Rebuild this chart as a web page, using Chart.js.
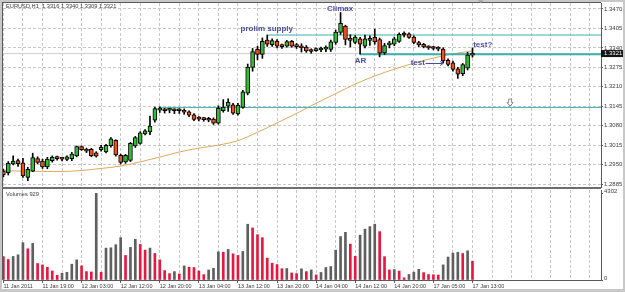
<!DOCTYPE html>
<html>
<head>
<meta charset="utf-8">
<script src="https://cdn.jsdelivr.net/npm/chart.js@4.4.1/dist/chart.umd.min.js"></script>
<style>
    html, body { margin: 0; padding: 0; background: #c8c8c8; }
    #wrap { position: relative; width: 625px; height: 292px; overflow: hidden; }
    #paper { position: absolute; left: 2px; top: 2px; width: 621px; height: 287px; background: #fff; }
    canvas { position: absolute; left: 0; }
    #price { top: 0; }
    #volume { top: 189px; }
</style>
</head>
<body>
<div id="wrap">
    <div id="paper"></div>
    <canvas id="price" width="625" height="189"></canvas>
    <canvas id="volume" width="625" height="103"></canvas>
</div>
<script>
// EURUSD H1 candles, 11 Jan 2011 11:00 .. 17 Jan 13:00 (one entry per bar)
const symbol = 'EURUSD,H1';
const opens = [
    1.2928, 1.2923, 1.2952, 1.2963, 1.2956, 1.2907, 1.2928, 1.2970, 1.2962, 1.2942,
    1.2963, 1.2975, 1.2970, 1.2967, 1.2970, 1.2979, 1.3010, 1.3002, 1.3001, 1.2989,
    1.3000, 1.2992, 1.3013, 1.3031, 1.2981, 1.2959, 1.2964, 1.3012, 1.3021, 1.3052,
    1.3059, 1.3098, 1.3132, 1.3133, 1.3132, 1.3132, 1.3130, 1.3131, 1.3126, 1.3116,
    1.3104, 1.3103, 1.3104, 1.3102, 1.3088, 1.3130, 1.3145, 1.3150, 1.3119, 1.3141,
    1.3189, 1.3275, 1.3335, 1.3318, 1.3366, 1.3351, 1.3363, 1.3348, 1.3346, 1.3362,
    1.3348, 1.3345, 1.3343, 1.3332, 1.3331, 1.3333, 1.3336, 1.3335, 1.3358, 1.3392,
    1.3413, 1.3372, 1.3358, 1.3370, 1.3346, 1.3365, 1.3375, 1.3368, 1.3323, 1.3350,
    1.3352, 1.3362, 1.3388, 1.3387, 1.3376, 1.3358, 1.3352, 1.3344, 1.3340, 1.3339,
    1.3336, 1.3298, 1.3290, 1.3270, 1.3254, 1.3272, 1.3316
];
const highs = [
    1.2934, 1.2960, 1.2979, 1.2968, 1.2971, 1.2941, 1.2988, 1.2976, 1.2968, 1.2974,
    1.2979, 1.2978, 1.2974, 1.2979, 1.2991, 1.3012, 1.3012, 1.3005, 1.3004, 1.2993,
    1.3014, 1.3018, 1.3040, 1.3033, 1.2985, 1.2984, 1.3024, 1.3044, 1.3060, 1.3067,
    1.3112, 1.3142, 1.3143, 1.3138, 1.3138, 1.3137, 1.3137, 1.3136, 1.3130, 1.3120,
    1.3110, 1.3108, 1.3108, 1.3106, 1.3146, 1.3167, 1.3170, 1.3155, 1.3155, 1.3198,
    1.3286, 1.3338, 1.3345, 1.3373, 1.3383, 1.3370, 1.3368, 1.3353, 1.3365, 1.3365,
    1.3355, 1.3354, 1.3348, 1.3337, 1.3340, 1.3343, 1.3347, 1.3366, 1.3400, 1.3458,
    1.3416, 1.3384, 1.3381, 1.3375, 1.3383, 1.3380, 1.3403, 1.3373, 1.3355, 1.3362,
    1.3376, 1.3390, 1.3394, 1.3390, 1.3380, 1.3362, 1.3355, 1.3347, 1.3345, 1.3344,
    1.3340, 1.3303, 1.3296, 1.3275, 1.3288, 1.3325, 1.3340
];
const lows = [
    1.2909, 1.2915, 1.2949, 1.2944, 1.2907, 1.2896, 1.2926, 1.2952, 1.2937, 1.2936,
    1.2958, 1.2965, 1.2962, 1.2963, 1.2963, 1.2976, 1.2997, 1.2990, 1.2976, 1.2975,
    1.2995, 1.2989, 1.3008, 1.2978, 1.2952, 1.2954, 1.2960, 1.3007, 1.3018, 1.3049,
    1.3050, 1.3092, 1.3124, 1.3122, 1.3123, 1.3120, 1.3121, 1.3118, 1.3110, 1.3097,
    1.3096, 1.3095, 1.3093, 1.3084, 1.3085, 1.3125, 1.3128, 1.3118, 1.3115, 1.3138,
    1.3183, 1.3262, 1.3300, 1.3305, 1.3345, 1.3345, 1.3340, 1.3338, 1.3342, 1.3342,
    1.3338, 1.3326, 1.3325, 1.3322, 1.3328, 1.3327, 1.3327, 1.3328, 1.3352, 1.3385,
    1.3350, 1.3343, 1.3354, 1.3319, 1.3340, 1.3348, 1.3352, 1.3310, 1.3318, 1.3340,
    1.3347, 1.3358, 1.3377, 1.3372, 1.3354, 1.3344, 1.3340, 1.3335, 1.3333, 1.3330,
    1.3290, 1.3280, 1.3262, 1.3238, 1.3247, 1.3266, 1.3309
];
const closes = [
    1.2916, 1.2954, 1.2962, 1.2953, 1.2912, 1.2934, 1.2973, 1.2957, 1.2942, 1.2968,
    1.2975, 1.2970, 1.2968, 1.2976, 1.2985, 1.3010, 1.3000, 1.2995, 1.2980, 1.2978,
    1.3008, 1.3014, 1.3036, 1.2982, 1.2957, 1.2981, 1.3021, 1.3040, 1.3056, 1.3063,
    1.3079, 1.3137, 1.3136, 1.3130, 1.3134, 1.3130, 1.3131, 1.3125, 1.3115, 1.3101,
    1.3102, 1.3100, 1.3098, 1.3088, 1.3138, 1.3142, 1.3158, 1.3122, 1.3148, 1.3193,
    1.3276, 1.3328, 1.3318, 1.3362, 1.3352, 1.3364, 1.3346, 1.3344, 1.3361, 1.3346,
    1.3344, 1.3340, 1.3330, 1.3328, 1.3337, 1.3336, 1.3340, 1.3360, 1.3393, 1.3422,
    1.3368, 1.3365, 1.3376, 1.3352, 1.3370, 1.3372, 1.3360, 1.3322, 1.3348, 1.3352,
    1.3370, 1.3385, 1.3383, 1.3375, 1.3358, 1.3350, 1.3343, 1.3340, 1.3338, 1.3336,
    1.3296, 1.3285, 1.3268, 1.3252, 1.3284, 1.3316, 1.3321
];
const volumes = [
    1167, 1017, 1167, 1250, 1850, 1550, 1817, 817, 750, 633,
    450, 233, 333, 383, 783, 1000, 700, 417, 400, 4302,
    383, 1583, 1600, 1750, 2100, 1217, 1617, 2017, 1767, 1483,
    1583, 1317, 1000, 467, 317, 417, 300, 700, 633, 617,
    450, 267, 500, 583, 1400, 1380, 1517, 1300, 1217, 1417,
    2767, 2583, 2250, 2100, 1083, 833, 767, 560, 570, 350,
    317, 555, 417, 500, 255, 375, 620, 667, 1483, 2158,
    2367, 1783, 1175, 2225, 2525, 2650, 2767, 2400, 1158, 500,
    517, 440, 110, 275, 390, 530, 365, 270, 260, 245,
    750, 1140, 1333, 1375, 1317, 1450, 929
];

// moving average read every 4th bar
const maBars = [0, 4, 8, 12, 16, 20, 24, 28, 32, 36, 40, 44, 48, 52, 56, 60, 64, 68, 72, 76, 80, 84, 88, 92, 96];
const maValues = [
    1.2930, 1.2928, 1.2927, 1.2927, 1.2930, 1.2937, 1.2945, 1.2959, 1.2975, 1.2992,
    1.3005, 1.3015, 1.3030, 1.3058, 1.3089, 1.3121, 1.3155, 1.3187, 1.3219, 1.3246,
    1.3269, 1.3289, 1.3306, 1.3320, 1.3330
];

// horizontal levels drawn on the chart (teal)
const levelPrices = [1.3383, 1.3319, 1.3141];
const levelFromBar = [54, 73, 32];
const levelWidths = [1, 2, 1];

// text notes (bar index, price)
const noteTexts = ['prolim supply', 'Climax', 'AR', 'test', 'test?'];
const noteBars = [53.9, 68.9, 73.1, 84.8, 98.1];
const notePrices = [1.3405, 1.3471, 1.3297, 1.32905, 1.33513];

const priceTicks = [1.2885, 1.2950, 1.3015, 1.3080, 1.3145, 1.3210, 1.3275, 1.3340, 1.3405, 1.3470];
const volumeTicks = [0, 4302];
const timeLabels = [
    '11 Jan 2011', '11 Jan 19:00', '12 Jan 03:00', '12 Jan 12:00', '12 Jan 20:00', '13 Jan 04:00',
    '13 Jan 12:00', '13 Jan 20:00', '14 Jan 04:00', '14 Jan 12:00', '14 Jan 20:00', '17 Jan 05:00', '17 Jan 13:00'
];

const X_MIN = -0.08;
const X_MAX = 122.3;
const GRID = '#c6c6c6';
const AXIS = '#5a5a5a';
const TEXT = '#3a3a3a';
const NOTE = '#4b4ba5';
const FONT = "'Liberation Sans', Arial, sans-serif";
const BULL = '#2fbf2f';
const BEAR = '#f0521e';
const TEAL = '#3fb0b0';

const last = closes.length - 1;
const gridBars = [];
for (let b = 0; b <= 120; b += 4) gridBars.push(b);

const pxFont = (size, bold) => `${bold ? 'bold ' : ''}${size}px ${FONT}`;

// Plot frame lines shared by both panels
function drawFrame(ctx, area, top, bottom) {
    ctx.save();
    ctx.strokeStyle = AXIS;
    ctx.lineWidth = 1;
    ctx.beginPath();
    ctx.moveTo(2.5, top);
    ctx.lineTo(2.5, bottom);
    ctx.stroke();
    ctx.restore();
}

const priceDecor = {
    id: 'priceDecor',
    beforeDatasetsDraw(chart) {
        const { ctx, chartArea } = chart;
        drawFrame(ctx, chartArea, 2, 189);
        ctx.save();
        ctx.strokeStyle = AXIS;
        ctx.beginPath();
        ctx.moveTo(2, 2.5);
        ctx.lineTo(chartArea.right, 2.5);
        ctx.stroke();
        ctx.restore();
    },
    afterDraw(chart) {
        const { ctx, chartArea } = chart;
        const x = chart.scales.x, y = chart.scales.y;
        ctx.save();

        // header line with the last bar
        ctx.font = pxFont(5.7);
        ctx.fillStyle = TEXT;
        ctx.textBaseline = 'middle';
        ctx.textAlign = 'left';
        const ohlc = [opens[last], highs[last], lows[last], closes[last]].map(v => v.toFixed(4)).join(' ');
        ctx.fillText(`${symbol}  ${ohlc}`, 6, 6.5);

        // notes
        ctx.font = pxFont(8, true);
        ctx.fillStyle = NOTE;
        ctx.textAlign = 'center';
        noteTexts.forEach((t, i) => {
            ctx.fillText(t, x.getPixelForValue(noteBars[i]), y.getPixelForValue(notePrices[i]));
        });

        // arrow after "test"
        const ay = Math.round(y.getPixelForValue(1.3291)) + 0.5;
        const ax1 = x.getPixelForValue(86.4), ax2 = x.getPixelForValue(90.0);
        ctx.strokeStyle = NOTE;
        ctx.lineWidth = 1;
        ctx.beginPath();
        ctx.moveTo(ax1, ay);
        ctx.lineTo(ax2, ay);
        ctx.moveTo(ax2 - 3, ay - 2);
        ctx.lineTo(ax2, ay);
        ctx.lineTo(ax2 - 3, ay + 2);
        ctx.stroke();

        // down arrow object
        const dx = x.getPixelForValue(103.7), dy = y.getPixelForValue(1.3157);
        ctx.beginPath();
        ctx.moveTo(dx - 1.5, dy - 3.5);
        ctx.lineTo(dx + 1.5, dy - 3.5);
        ctx.lineTo(dx + 1.5, dy);
        ctx.lineTo(dx + 3, dy);
        ctx.lineTo(dx, dy + 3.5);
        ctx.lineTo(dx - 3, dy);
        ctx.lineTo(dx - 1.5, dy);
        ctx.closePath();
        ctx.fillStyle = '#fff';
        ctx.fill();
        ctx.strokeStyle = '#8a8a8a';
        ctx.stroke();

        // chart shift marker
        const sx = x.getPixelForValue(97.7);
        ctx.fillStyle = '#9a9a9a';
        ctx.beginPath();
        ctx.moveTo(sx - 2.5, 0.5);
        ctx.lineTo(sx + 2.5, 0.5);
        ctx.lineTo(sx, 3.5);
        ctx.closePath();
        ctx.fill();

        // bid label on the price axis
        const by = y.getPixelForValue(closes[last]);
        ctx.fillStyle = '#141414';
        ctx.fillRect(chartArea.right, by - 3.5, 22, 7);
        ctx.fillStyle = '#fff';
        ctx.font = pxFont(6);
        ctx.textAlign = 'left';
        ctx.fillText(closes[last].toFixed(4), chartArea.right + 3, by);

        // panel separator
        ctx.fillStyle = '#6e6e6e';
        ctx.fillRect(2, 187, chartArea.right - 2, 2);
        ctx.restore();
    }
};

const volumeDecor = {
    id: 'volumeDecor',
    beforeDatasetsDraw(chart) {
        drawFrame(chart.ctx, chart.chartArea, 0, chart.chartArea.bottom);
    },
    afterDraw(chart) {
        const { ctx } = chart;
        ctx.save();
        ctx.font = pxFont(5.7);
        ctx.fillStyle = TEXT;
        ctx.textBaseline = 'middle';
        ctx.fillText(`Volumes ${volumes[last]}`, 6, 5.5);
        ctx.restore();
    }
};

const xScaleBase = {
    type: 'linear',
    min: X_MIN,
    max: X_MAX,
    offset: false,
    afterBuildTicks: s => { s.ticks = gridBars.map(v => ({ value: v })); }
};

const horizontalLine = (fromX, price, color, width, order) => ({
    type: 'line',
    data: [{ x: fromX, y: price }, { x: X_MAX, y: price }],
    borderColor: color,
    borderWidth: width,
    pointRadius: 0,
    order: order
});

new Chart(document.getElementById('price'), {
    type: 'bar',
    data: {
        datasets: [
            {
                // candle bodies
                data: opens.map((o, i) => ({ x: i, y: [o, closes[i]] })),
                backgroundColor: opens.map((o, i) => closes[i] >= o ? BULL : BEAR),
                borderColor: '#000',
                borderWidth: 1,
                borderSkipped: false,
                barThickness: 4,
                minBarLength: 2,
                order: 0
            },
            {
                // wicks
                data: highs.map((h, i) => ({ x: i, y: [lows[i], h] })),
                backgroundColor: '#000',
                barThickness: 1,
                order: 1
            },
            ...levelPrices.map((p, i) => horizontalLine(levelFromBar[i], p, TEAL, levelWidths[i], 2)),
            {
                type: 'line',
                data: maBars.map((b, i) => ({ x: b, y: maValues[i] })),
                borderColor: '#dca95e',
                borderWidth: 1,
                pointRadius: 0,
                cubicInterpolationMode: 'monotone',
                order: 3
            },
            horizontalLine(X_MIN, closes[last], '#cfcfcf', 1, 4)
        ]
    },
    options: {
        responsive: false,
        animation: false,
        events: [],
        layout: { padding: { left: 3, top: 3, right: 0, bottom: 2 } },
        datasets: { bar: { grouped: false } },
        plugins: { legend: { display: false }, tooltip: { enabled: false } },
        scales: {
            x: {
                ...xScaleBase,
                grid: { offset: false, color: GRID, drawTicks: false },
                border: { display: false, dash: [3, 2] },
                ticks: { display: false },
                afterFit: s => { s.height = 0; s.paddingLeft = 0; s.paddingRight = 0; }
            },
            y: {
                position: 'right',
                min: 1.2875,
                max: 1.3490,
                afterBuildTicks: s => { s.ticks = priceTicks.map(v => ({ value: v })); },
                afterFit: s => { s.width = 24; s.paddingTop = 0; s.paddingBottom = 0; },
                grid: { color: GRID, tickLength: 2, tickColor: AXIS },
                border: { display: true, color: AXIS, width: 1, dash: [3, 2] },
                ticks: {
                    color: TEXT,
                    padding: 1,
                    font: { size: 6, family: FONT },
                    callback: v => Number(v).toFixed(4)
                }
            }
        }
    },
    plugins: [priceDecor]
});

new Chart(document.getElementById('volume'), {
    type: 'bar',
    data: {
        datasets: [{
            data: volumes.map((v, i) => ({ x: i, y: v })),
            // MT4 volumes: grey when above the previous bar, red otherwise
            backgroundColor: volumes.map((v, i) => i > 0 && v > volumes[i - 1] ? '#5f5f5f' : '#e8173f'),
            barThickness: 2
        }]
    },
    options: {
        responsive: false,
        animation: false,
        events: [],
        layout: { padding: { left: 3, top: 1, right: 0, bottom: 0 } },
        plugins: { legend: { display: false }, tooltip: { enabled: false } },
        scales: {
            x: {
                ...xScaleBase,
                afterFit: s => { s.height = 12; s.paddingLeft = 0; s.paddingRight = 0; },
                grid: {
                    offset: false,
                    color: c => (c.tick && c.tick.value === 0) ? 'rgba(0,0,0,0)' : GRID,
                    tickLength: 3,
                    tickColor: c => (c.tick && c.tick.value % 8 === 0 && c.tick.value / 8 < timeLabels.length) ? AXIS : 'rgba(0,0,0,0)'
                },
                border: { display: true, color: AXIS, width: 1, dash: [3, 2] },
                ticks: {
                    autoSkip: false,
                    maxRotation: 0,
                    align: 'start',
                    padding: 0,
                    color: TEXT,
                    font: { size: 5.5, family: FONT },
                    callback: v => (v % 8 === 0 && v / 8 < timeLabels.length) ? timeLabels[v / 8] : ''
                }
            },
            y: {
                position: 'right',
                min: 0,
                max: 4466,
                afterBuildTicks: s => { s.ticks = volumeTicks.map(v => ({ value: v })); },
                afterFit: s => { s.width = 24; s.paddingTop = 0; s.paddingBottom = 0; },
                grid: { drawOnChartArea: false, tickLength: 2, tickColor: AXIS },
                border: { display: true, color: AXIS, width: 1 },
                ticks: {
                    color: TEXT,
                    padding: 1,
                    labelOffset: -2,
                    font: { size: 6, family: FONT },
                    callback: v => String(v)
                }
            }
        }
    },
    plugins: [volumeDecor]
});
</script>
</body>
</html>
